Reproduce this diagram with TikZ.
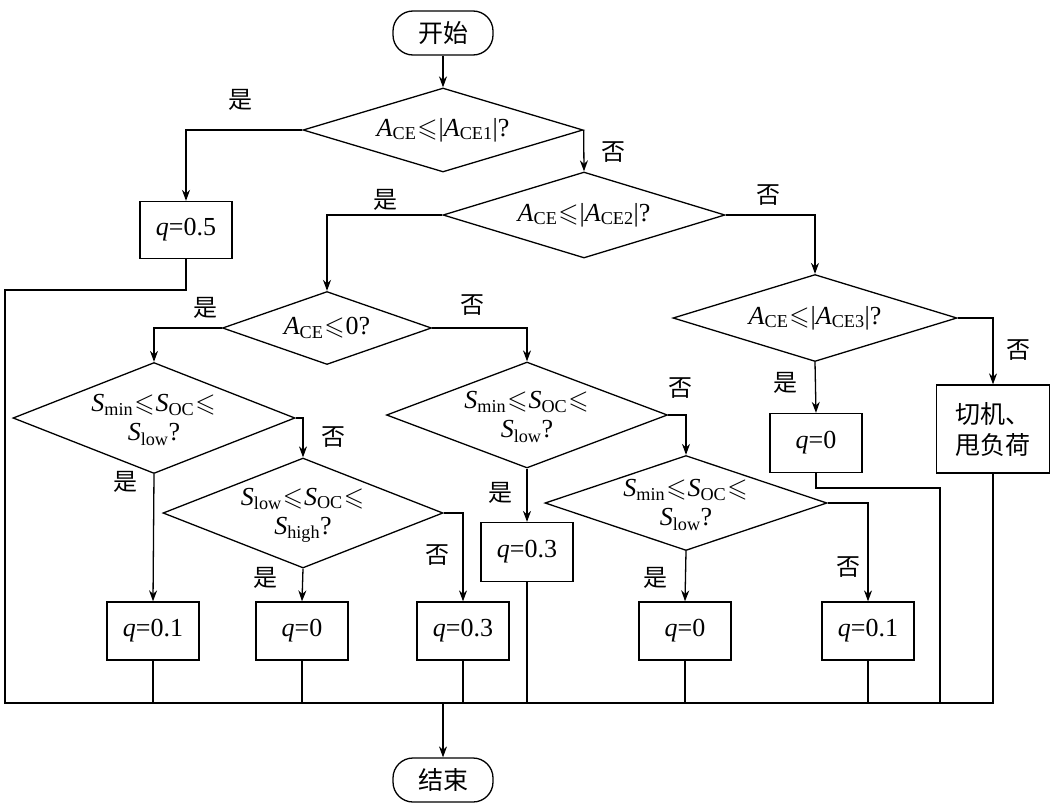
\documentclass[tikz,border=0pt]{standalone}
\usepackage{amssymb}
\usepackage{fontspec}
\setmainfont{Liberation Serif}
\newfontfamily\cjk{Noto Sans CJK SC}
\usetikzlibrary{shapes.geometric,arrows.meta}
\newcommand{\vA}[1]{\textit{A}\textsubscript{#1}}
\newcommand{\vS}[1]{\textit{S}\textsubscript{#1}}
\newcommand{\myle}{\kern1pt$\leqslant$\kern1pt}
\begin{document}
\begin{tikzpicture}[x=1pt,y=-1pt,line width=1.3pt,
  every node/.style={font=\fontsize{26}{29}\selectfont},
  dia/.style={draw,diamond,inner sep=0pt,minimum width=#1},
  box/.style={draw,rectangle,inner sep=0pt,minimum width=92,minimum height=57},
  term/.style={draw,rounded corners=20pt,minimum width=100,minimum height=44,inner sep=0pt,font=\cjk\fontsize{25}{29}\selectfont},
  lab/.style={font=\cjk\fontsize{24}{28}\selectfont},
  arr/.style={-{Stealth[length=11pt,width=8pt]}}]
\useasboundingbox (0,0) rectangle (1056,811);
% terminals
\node[term] (start) at (443,33) {开始};
\node[term] (end) at (443,780) {结束};
% diamonds
\node[dia=280,minimum height=84] (d1) at (443,130) {};
\node at (443,130) {\vA{CE}\myle|\vA{CE1}|?};
\node[dia=282,minimum height=86] (d2) at (584,215) {};
\node at (584,215) {\vA{CE}\myle|\vA{CE2}|?};
\node[dia=284,minimum height=87] (d4) at (815,318) {};
\node at (815,318) {\vA{CE}\myle|\vA{CE3}|?};
\node[dia=209,minimum height=73] (d3) at (327,328) {};
\node at (327,328) {\vA{CE}\myle0?};
\node[dia=282,minimum height=111] (d5) at (154,418) {};
\node[align=center,inner sep=0pt] at (154,420) {\vS{min}\myle\vS{OC}\myle\\\vS{low}?};
\node[dia=280,minimum height=110] (d7) at (303,513) {};
\node[align=center,inner sep=0pt] at (303,515) {\vS{low}\myle\vS{OC}\myle\\\vS{high}?};
\node[dia=281,minimum height=106] (d6) at (527,415) {};
\node[align=center,inner sep=0pt] at (527,417) {\vS{min}\myle\vS{OC}\myle\\\vS{low}?};
\node[dia=282,minimum height=95] (d8) at (686,503) {};
\node[align=center,inner sep=0pt] at (686,505) {\vS{min}\myle\vS{OC}\myle\\\vS{low}?};
% boxes
\node[box] (q05) at (186,230) {\textit{q}=0.5};
\node[box,minimum height=59] (q0a) at (816,443) {\textit{q}=0};
\node[box,minimum width=113,minimum height=88,align=center,font=\cjk\fontsize{25}{31}\selectfont] (cut) at (993,429) {切机、\\甩负荷};
\node[box,minimum height=59] (q03a) at (527,552) {\textit{q}=0.3};
\node[box,minimum height=58] (q01a) at (153,631) {\textit{q}=0.1};
\node[box,minimum height=58] (q0b) at (302,631) {\textit{q}=0};
\node[box,minimum height=58] (q03b) at (463,631) {\textit{q}=0.3};
\node[box,minimum height=58] (q0c) at (685,631) {\textit{q}=0};
\node[box,minimum height=58] (q01b) at (868,631) {\textit{q}=0.1};
% connectors
\draw[arr] (start) -- (d1);
\draw[arr] (d1.west) -| (q05.north);
\draw[arr] (d1.east) -- (d2.north);
\draw[arr] (d2.west) -| (d3.north);
\draw[arr] (d2.east) -| (d4.north);
\draw[arr] (d4.south) -- (q0a.north);
\draw[arr] (d4.east) -| (cut.north);
\draw[arr] (d3.west) -| (d5.north);
\draw[arr] (d3.east) -| (d6.north);
\draw[arr] (d5.south) -- (q01a.north);
\draw[arr] (d5.east) -| (d7.north);
\draw[arr] (d7.south) -- (q0b.north);
\draw[arr] (d7.east) -| (q03b.north);
\draw[arr] (d6.south) -- (q03a.north);
\draw[arr] (d6.east) -| (d8.north);
\draw[arr] (d8.south) -- (q0c.north);
\draw[arr] (d8.east) -| (q01b.north);
% collecting lines
\coordinate (bl) at (5,703);
\coordinate (br) at (993,703);
\coordinate (bm) at (443,703);
\draw (q05.south) -- (186,290) -- (5,290) -- (bl) -- (br) -- (cut.south);
\draw (q0a.south) -- (816,488) -- (940,488) -- (940,703);
\draw (q03a.south) -- (527,703);
\draw (q01a.south) -- (153,703);
\draw (q0b.south) -- (302,703);
\draw (q03b.south) -- (463,703);
\draw (q0c.south) -- (685,703);
\draw (q01b.south) -- (868,703);
\draw[arr] (bm) -- (end);
% labels
\node[lab] at (240,100) {是};
\node[lab] at (613,152) {否};
\node[lab] at (385,200) {是};
\node[lab] at (768,195) {否};
\node[lab] at (785,383) {是};
\node[lab] at (1018,350) {否};
\node[lab] at (205,308) {是};
\node[lab] at (472,305) {否};
\node[lab] at (125,482) {是};
\node[lab] at (333,437) {否};
\node[lab] at (265,578) {是};
\node[lab] at (437,555) {否};
\node[lab] at (500,493) {是};
\node[lab] at (680,388) {否};
\node[lab] at (655,578) {是};
\node[lab] at (848,567) {否};
\end{tikzpicture}
\end{document}
